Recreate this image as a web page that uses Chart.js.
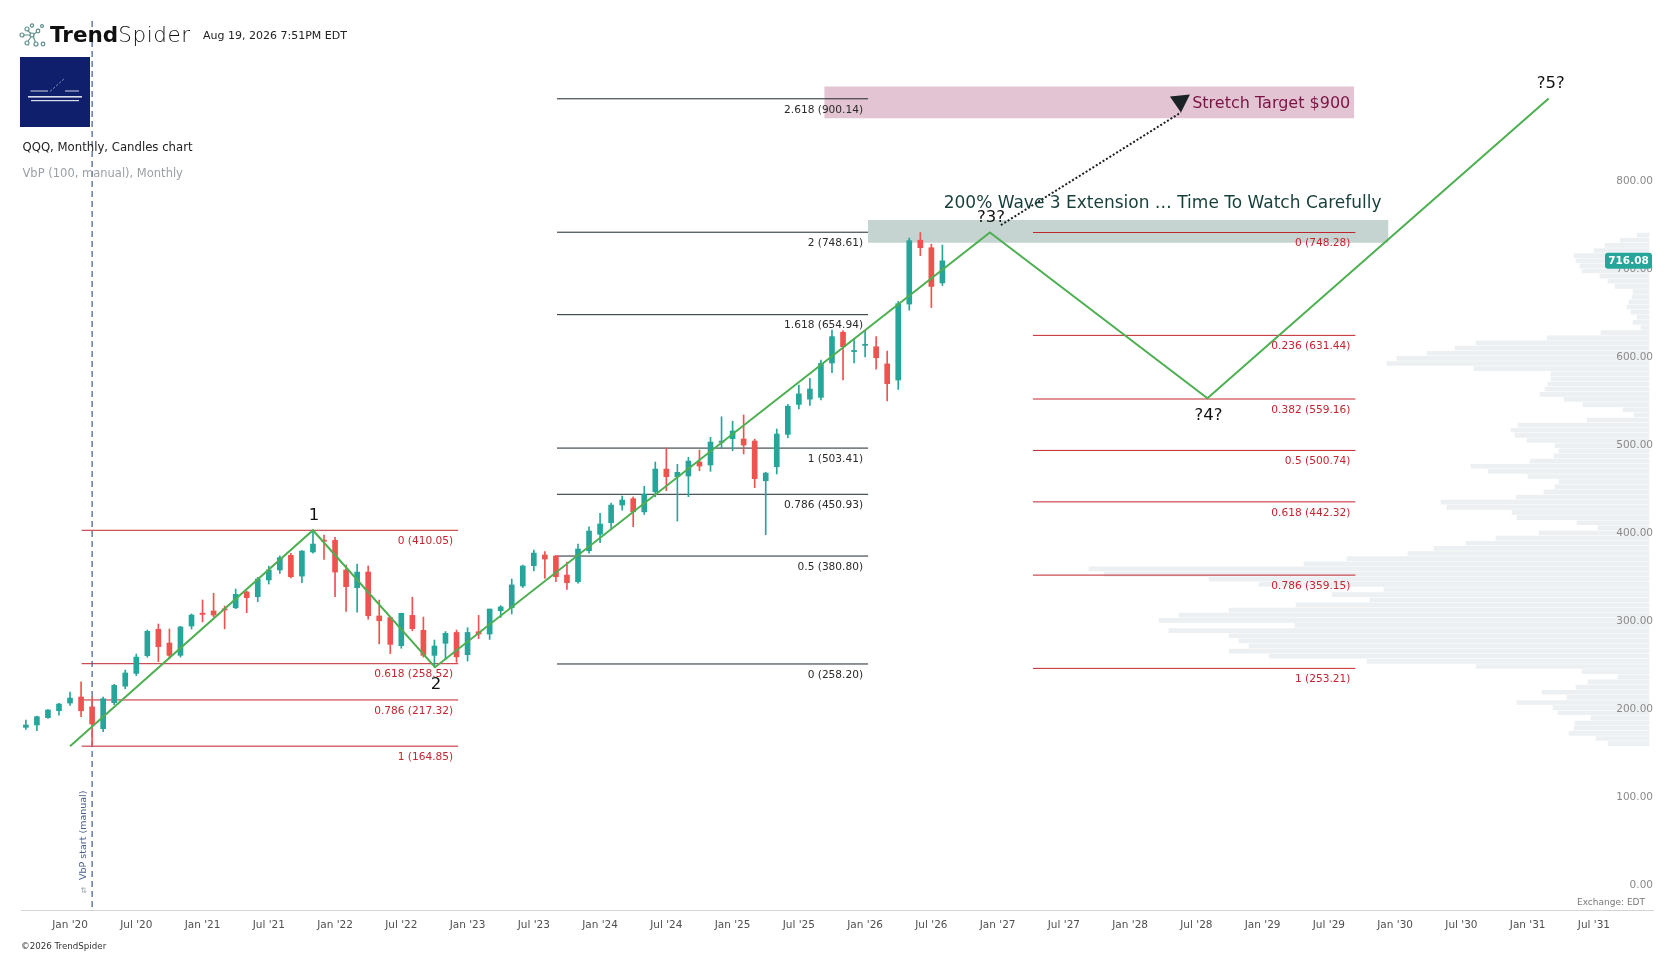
<!DOCTYPE html>
<html><head><meta charset="utf-8">
<script src="https://cdn.jsdelivr.net/npm/chart.js@4.4.1/dist/chart.umd.min.js"></script>
<style>
html,body{margin:0;padding:0;background:#fff;}
#wrap{position:relative;width:1679px;height:958px;overflow:hidden;background:#fff;font-family:"DejaVu Sans",sans-serif;}
#c{position:absolute;left:0;top:0;}
.t{position:absolute;white-space:nowrap;line-height:1;}
</style></head><body>
<div id="wrap">
<canvas id="c" width="1679" height="958"></canvas>
<svg class="t" style="left:18px;top:23px" width="30" height="26" viewBox="0 0 30 26">
  <g fill="none" stroke="#5f8f8a" stroke-width="1.2">
    <circle cx="4" cy="12" r="2"/><circle cx="9" cy="6" r="2"/><circle cx="14" cy="2.5" r="1.6"/>
    <circle cx="9" cy="20" r="2"/><circle cx="14" cy="12" r="2"/><circle cx="20" cy="8" r="1.8"/>
    <circle cx="18" cy="21" r="2"/><circle cx="25" cy="21" r="1.8"/><circle cx="24" cy="3" r="1.4"/>
    <path d="M6 12 L12 12 M10 8 L13 10.5 M10 18 L13 14 M16 11 L18.5 9.2 M15.5 14 L17.3 19"/>
  </g>
</svg>
<div class="t" style="left:50px;top:24px;font-size:21.5px;color:#111;"><span style="font-weight:700">Trend</span><span style="font-weight:200;letter-spacing:0.6px">Spider</span></div>
<div class="t" style="left:203px;top:30.2px;font-size:11px;color:#222;">Aug 19, 2026 7:51PM EDT</div>
<svg class="t" style="left:20px;top:57px" width="70" height="70" viewBox="0 0 70 70">
  <rect x="0" y="0" width="70" height="70" fill="#0f1f6c"/>
  <g stroke="#fff" stroke-width="0.8" fill="none">
    <path d="M10.5 34 L28 34"/><path d="M45 34 L59 34"/>
    <path d="M30.5 34 L45 21" stroke-dasharray="1.5 2.5"/>
  </g>
  <g fill="#fff" opacity="0.85">
    <rect x="8" y="39" width="54" height="1.6"/><rect x="11" y="43" width="48" height="1.2"/>
  </g>
</svg>
<div class="t" style="left:22.5px;top:141.6px;font-size:11.7px;color:#222;">QQQ, Monthly, Candles chart</div>
<div class="t" style="left:22.5px;top:167.8px;font-size:11.5px;color:#9aa0a6;">VbP (100, manual), Monthly</div>
<div class="t" style="left:21px;top:941.5px;font-size:8.7px;color:#333;">©2026 TrendSpider</div>
<div class="t" style="right:34px;top:897.5px;font-size:9px;color:#777;">Exchange: EDT</div>
</div>
<script>
// ---------------- DATA ----------------
const candleMonths = [
 '2019-09','2019-10','2019-11','2019-12',
 '2020-01','2020-02','2020-03','2020-04','2020-05','2020-06','2020-07','2020-08','2020-09','2020-10','2020-11','2020-12',
 '2021-01','2021-02','2021-03','2021-04','2021-05','2021-06','2021-07','2021-08','2021-09','2021-10','2021-11','2021-12',
 '2022-01','2022-02','2022-03','2022-04','2022-05','2022-06','2022-07','2022-08','2022-09','2022-10','2022-11','2022-12',
 '2023-01','2023-02','2023-03','2023-04','2023-05','2023-06','2023-07','2023-08','2023-09','2023-10','2023-11','2023-12',
 '2024-01','2024-02','2024-03','2024-04','2024-05','2024-06','2024-07','2024-08','2024-09','2024-10','2024-11','2024-12',
 '2025-01','2025-02','2025-03','2025-04','2025-05','2025-06','2025-07','2025-08','2025-09','2025-10','2025-11','2025-12',
 '2026-01','2026-02','2026-03','2026-04','2026-05','2026-06','2026-07','2026-08'];
const opens = [
 186.2,188.9,197.2,205.1,
 213.8,220.7,209.5,184.7,214.2,233.0,247.5,267.6,297.6,282.0,268.0,301.3,
 315.5,318.4,320.5,322.0,340.0,334.6,353.6,365.0,381.6,358.0,385.4,398.5,
 398.6,365.0,344.8,362.6,312.7,310.8,279.0,313.4,296.4,268.0,281.7,294.0,
 268.7,294.8,292.2,318.7,322.0,346.7,369.8,382.0,380.8,359.2,351.6,386.8,
 405.5,418.6,438.7,445.9,431.0,453.9,479.6,471.0,471.7,487.6,484.2,510.0,
 514.0,513.7,511.4,466.3,482.2,519.0,553.0,559.0,561.0,600.0,635.0,613.0,
 620.0,618.5,599.0,580.7,667.0,739.5,731.0,691.0];
const highs = [
 194.5,199.0,206.5,213.5,
 226.3,238.0,220.5,220.7,235.0,251.3,269.5,296.8,303.6,297.9,301.0,315.0,
 330.9,338.4,324.0,343.3,341.0,356.6,369.4,381.0,384.0,387.0,410.05,404.7,
 402.0,370.6,371.7,369.5,330.8,312.5,316.0,334.0,311.5,285.4,295.0,296.8,
 299.4,313.4,320.6,324.5,354.7,370.5,387.6,386.0,381.5,374.0,394.4,414.0,
 429.3,441.0,449.0,448.0,460.0,487.6,503.5,485.0,493.0,501.2,515.6,539.0,
 534.0,541.0,513.5,476.0,525.0,553.0,575.0,582.6,603.4,637.5,637.0,628.0,
 636.0,630.0,613.6,670.0,742.0,748.28,735.0,734.0];
const lows = [
 184.0,182.4,196.5,200.0,
 211.0,198.3,164.85,181.3,212.0,230.0,245.0,265.8,260.8,264.0,266.0,297.9,
 306.0,311.9,298.2,321.0,316.5,329.0,349.0,361.0,356.0,350.5,384.0,377.0,
 334.6,318.0,317.0,309.0,281.0,270.0,276.0,296.0,266.0,254.5,263.0,260.0,
 261.5,287.0,286.0,311.0,315.0,345.0,364.0,355.5,351.6,343.0,350.0,384.0,
 396.0,412.0,433.0,414.0,428.0,448.0,455.0,420.5,448.2,477.7,477.0,503.5,
 500.4,496.7,458.4,405.0,474.0,515.0,548.0,552.0,558.0,589.0,580.7,600.0,
 607.0,593.0,557.0,570.0,660.0,722.0,663.0,688.0];
const closes = [
 188.9,198.3,205.9,212.7,
 219.5,205.1,190.0,218.7,234.0,248.0,266.0,295.3,277.8,268.0,300.2,313.8,
 314.5,313.8,319.5,337.3,333.5,354.7,365.0,379.0,357.3,386.5,394.4,397.5,
 362.6,346.0,362.6,313.0,307.3,280.5,315.7,298.2,268.0,278.6,293.0,266.3,
 294.0,292.2,320.6,323.0,348.0,369.5,384.2,377.4,357.3,350.5,388.8,409.2,
 417.2,438.7,444.4,431.0,451.0,479.6,470.9,475.9,488.7,483.0,510.3,511.3,
 522.8,506.9,468.6,475.0,519.4,551.0,565.0,570.5,599.6,630.0,618.5,614.0,
 621.0,606.0,576.5,667.4,739.0,731.0,687.0,716.08];

// Volume-by-price (100 rows from VbP low to VbP high), relative volume per row, bottom row first
const vbpLow = 164.85, vbpHigh = 748.28;
const vbpVolumes = [
 41,53,80,75,74,58,91,96,132,82,
 107,73,61,31,67,173,282,380,420,400,
 410,420,480,354,490,470,420,353,279,317,
 265,390,440,545,560,345,302,241,215,183,
 153,110,51,72,132,137,202,208,133,105,
 94,90,121,161,178,119,95,90,94,122,
 134,138,131,62,15,26,66,85,109,104,
 101,98,98,175,262,252,222,194,173,102,
 48,8,16,12,18,22,20,17,16,34,
 41,49,67,69,73,75,55,44,29,12];
const vbpStartMonth = '2020-03';

// Fibonacci sets
const fib1Ratios = ['0','0.618','0.786','1'];
const fib1Levels = [410.05, 258.52, 217.32, 164.85];
const fib1Span = [1.05, 35.15];
const fib2Ratios = ['2.618','2','1.618','1','0.786','0.5','0'];
const fib2Levels = [900.14, 748.61, 654.94, 503.41, 450.93, 380.80, 258.20];
const fib2Span = [44.1, 72.27];
const fib3Ratios = ['0','0.236','0.382','0.5','0.618','0.786','1'];
const fib3Levels = [748.28, 631.44, 559.16, 500.74, 442.32, 359.15, 253.21];
const fib3Span = [87.2, 116.4];

// Elliott wave count (x in months since Jan 2020)
const waveX = [0, 22, 33.05, 83.3, 103, 133.9];
const waveY = [164.85, 410.05, 254.5, 748.28, 560.0, 900.5];
const waveLabels = ['', '1', '2', '?3?', '?4?', '?5?'];

// Annotation zones
const stretchX = [68.3, 116.3], stretchY = [877.9, 914.2];
const stretchText = 'Stretch Target $900';
const watchX = [72.26, 119.4], watchY = [736.6, 762.4];
const watchText = '200% Wave 3 Extension … Time To Watch Carefully';
const arrowX = [84.3, 100.6], arrowY = [756.7, 884.6];

// Axis ticks
const xTickLabels = ["Jan '20","Jul '20","Jan '21","Jul '21","Jan '22","Jul '22","Jan '23","Jul '23",
 "Jan '24","Jul '24","Jan '25","Jul '25","Jan '26","Jul '26","Jan '27","Jul '27","Jan '28","Jul '28",
 "Jan '29","Jul '29","Jan '30","Jul '30","Jan '31","Jul '31"];
const yTickValues = [0,100,200,300,400,500,600,700,800];

// ---------------- HELPERS ----------------
const UP = '#26a69a', DOWN = '#ef5350';
const monthIndex = s => { const [y, m] = s.split('-').map(Number); return (y - 2020) * 12 + (m - 1); };
const MON = {Jan:0, Jul:6};
const labelIndex = l => { const [mo, yy] = l.split(" '"); return (Number(yy) - 20) * 12 + MON[mo]; };
const xTickValues = xTickLabels.map(labelIndex);
const candleX = candleMonths.map(monthIndex);
const candleColors = closes.map((c, i) => c >= opens[i] ? UP : DOWN);
const rowH = (vbpHigh - vbpLow) / vbpVolumes.length;
const fibSets = [
  {ratios: fib1Ratios, levels: fib1Levels, span: fib1Span, line: '#c0242c', text: '#c3252f'},
  {ratios: fib2Ratios, levels: fib2Levels, span: fib2Span, line: '#1c2a30', text: '#2b2b2b'},
  {ratios: fib3Ratios, levels: fib3Levels, span: fib3Span, line: '#c0242c', text: '#c3252f'}
];
const X_MIN = -4.44, X_MAX = 143.35, Y_MIN = -21.24, Y_MAX = 988.5;

function fibData(set) {
  const d = [];
  set.levels.forEach(v => { d.push({x: set.span[0], y: v}, {x: set.span[1], y: v}, {x: set.span[1], y: null}); });
  return d;
}

const datasets = [
  { type: 'bar', label: 'vbp', indexAxis: 'y', xAxisID: 'xv', yAxisID: 'y', order: 100,
    data: vbpVolumes.map((v, i) => ({y: vbpLow + rowH * (i + 0.5), x: [0, v]})),
    backgroundColor: '#edf0f2', barThickness: 4, grouped: false, borderWidth: 0 },
  { type: 'line', label: 'stretch', order: 90, data: [{x: stretchX[0], y: stretchY[1]}, {x: stretchX[1], y: stretchY[1]}],
    fill: {value: stretchY[0]}, backgroundColor: '#e3c4d2', borderWidth: 0, pointRadius: 0 },
  { type: 'line', label: 'watch', order: 90, data: [{x: watchX[0], y: watchY[1]}, {x: watchX[1], y: watchY[1]}],
    fill: {value: watchY[0]}, backgroundColor: '#c5d4d0', borderWidth: 0, pointRadius: 0 },
  ...fibSets.map((s, k) => ({ type: 'line', label: 'fib' + k, order: 80, data: fibData(s),
    borderColor: s.line, borderWidth: 1, pointRadius: 0, spanGaps: false, fill: false })),
  { type: 'line', label: 'vbpStart', order: 70, data: [{x: monthIndex(vbpStartMonth), y: Y_MAX}, {x: monthIndex(vbpStartMonth), y: Y_MIN}],
    borderColor: '#3d5b8e', borderWidth: 1.2, borderDash: [6, 4], pointRadius: 0, fill: false },
  { type: 'bar', label: 'wicks', order: 50, data: candleX.map((x, i) => ({x, y: [lows[i], highs[i]]})),
    backgroundColor: candleColors, barThickness: 1, grouped: false, borderWidth: 0 },
  { type: 'bar', label: 'bodies', order: 40, data: candleX.map((x, i) => ({x, y: [opens[i], closes[i]]})),
    backgroundColor: candleColors, barThickness: 5, minBarLength: 1.2, grouped: false, borderWidth: 0 },
  { type: 'line', label: 'wave', order: 30, data: waveX.map((x, i) => ({x, y: waveY[i]})),
    borderColor: '#4caf50', borderWidth: 2, pointRadius: 0, fill: false },
  { type: 'line', label: 'arrow', order: 20, data: arrowX.map((x, i) => ({x, y: arrowY[i]})),
    borderColor: '#1b1f22', borderWidth: 2, borderDash: [2, 2], pointRadius: 0, fill: false }
];

const annot = {
  id: 'annot',
  afterDatasetsDraw(chart) {
    const {ctx, scales: {x, y}, chartArea} = chart;
    ctx.save();
    ctx.font = '10.6px "DejaVu Sans"';
    ctx.textAlign = 'right'; ctx.textBaseline = 'middle';
    fibSets.forEach(s => {
      ctx.fillStyle = s.text;
      const xe = x.getPixelForValue(s.span[1]) - 5;
      s.levels.forEach((v, i) => ctx.fillText(s.ratios[i] + ' (' + v.toFixed(2) + ')', xe, y.getPixelForValue(v) + 11));
    });
    ctx.font = '16px "DejaVu Sans"';
    ctx.fillStyle = '#7a1446';
    ctx.fillText(stretchText, x.getPixelForValue(stretchX[1]) - 4, y.getPixelForValue((stretchY[0] + stretchY[1]) / 2) + 1);
    ctx.font = '17px "DejaVu Sans"';
    ctx.fillStyle = '#173f3a';
    ctx.fillText(watchText, x.getPixelForValue(watchX[1]) - 7, y.getPixelForValue(watchY[1]) - 16);
    ctx.font = '16.5px "DejaVu Sans"';
    ctx.fillStyle = '#111';
    ctx.textAlign = 'center';
    waveLabels.forEach((l, i) => {
      if (!l) return;
      const peak = i % 2 === 1;
      ctx.fillText(l, x.getPixelForValue(waveX[i]) + (i === 5 ? 2 : 1), y.getPixelForValue(waveY[i]) + (peak ? -15 : 17));
    });
    const ex = x.getPixelForValue(arrowX[1]), ey = y.getPixelForValue(arrowY[1]);
    ctx.fillStyle = '#1b2226';
    ctx.beginPath();
    ctx.moveTo(ex, ey);
    ctx.lineTo(ex - 11, ey - 16);
    ctx.lineTo(ex + 9, ey - 18);
    ctx.closePath();
    ctx.fill();
    const vx = x.getPixelForValue(monthIndex(vbpStartMonth));
    ctx.save();
    ctx.translate(vx - 8.5, chartArea.bottom - 30);
    ctx.rotate(-Math.PI / 2);
    ctx.textAlign = 'left'; ctx.textBaseline = 'middle';
    ctx.font = '9.5px "DejaVu Sans"';
    ctx.fillStyle = '#4a5f8a';
    ctx.fillText('VbP start (manual)', 0, 0);
    ctx.restore();
    ctx.font = '8px "DejaVu Sans"';
    ctx.fillStyle = '#a0a8ae';
    ctx.textAlign = 'center';
    ctx.fillText('⇅', vx - 8.5, chartArea.bottom - 19);
    ctx.restore();
  },
  afterDraw(chart) {
    const {ctx, scales: {y}, chartArea} = chart;
    const last = closes[closes.length - 1];
    const py = y.getPixelForValue(last);
    const r = chartArea.right - 1, w = 47, h = 16;
    ctx.save();
    ctx.fillStyle = '#26a69a';
    ctx.beginPath();
    ctx.roundRect(r - w, py - h / 2, w, h, 3);
    ctx.fill();
    ctx.fillStyle = '#fff';
    ctx.font = 'bold 10.5px "DejaVu Sans"';
    ctx.textAlign = 'center'; ctx.textBaseline = 'middle';
    ctx.fillText(last.toFixed(2), r - w / 2, py + 0.5);
    ctx.restore();
  }
};

new Chart(document.getElementById('c'), {
  type: 'line',
  data: { datasets },
  options: {
    responsive: false, animation: false, events: [],
    layout: { padding: { left: 21, right: 26, top: 21, bottom: 0 } },
    plugins: { legend: { display: false }, tooltip: { enabled: false } },
    scales: {
      x: { type: 'linear', min: X_MIN, max: X_MAX, offset: false,
        grid: { display: false, drawTicks: false },
        border: { display: true, color: '#d4d4d4', width: 1 },
        ticks: { autoSkip: false, maxRotation: 0, padding: 9, color: '#505050',
          font: { family: 'DejaVu Sans', size: 10.5 },
          callback: v => { const i = xTickValues.indexOf(v); return i >= 0 ? xTickLabels[i] : ''; } },
        afterBuildTicks: s => { s.ticks = xTickValues.map(v => ({ value: v })); },
        afterFit: s => { s.height = 48; } },
      y: { type: 'linear', position: 'right', min: Y_MIN, max: Y_MAX, offset: false,
        grid: { display: false, drawTicks: false }, border: { display: false },
        ticks: { z: 1, mirror: true, padding: 0, labelOffset: -6, color: '#8a8a8a',
          font: { family: 'DejaVu Sans', size: 10.5 }, callback: v => Number(v).toFixed(2) },
        afterBuildTicks: s => { s.ticks = yTickValues.map(v => ({ value: v })); },
        afterFit: s => { s.width = 0; } },
      xv: { type: 'linear', axis: 'x', display: false, reverse: true, min: -4, max: 1628 }
    }
  },
  plugins: [annot]
});
</script>
</body></html>
